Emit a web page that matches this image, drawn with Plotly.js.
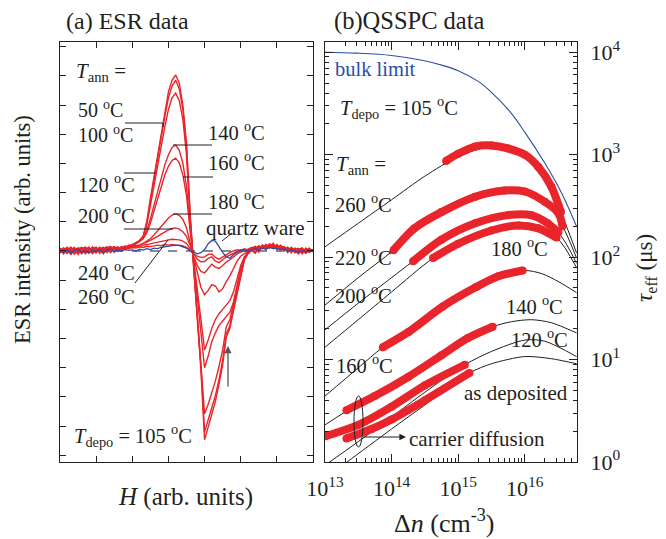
<!DOCTYPE html>
<html>
<head>
<meta charset="utf-8">
<script src="https://cdn.plot.ly/plotly-3.0.1.min.js"></script>
<style>html,body{margin:0;padding:0;background:#fff}#chart{width:666px;height:539px}</style>
</head>
<body>
<div id="chart"></div>
<script>
// ---------- (a) ESR data ----------
const fieldH = [0,0.1,0.2,0.3,0.4,0.5,0.6,0.7,0.8,0.9,1.0,1.1,1.2,1.3,1.4,1.5,1.6,1.7,1.8,1.9,
  2.0,2.1,2.2,2.3,2.4,2.5,2.6,2.7,2.8,2.9,3.0,3.1,3.2,3.3,3.4,3.5,3.6,3.7,3.8,3.9,
  4.0,4.1,4.2,4.3,4.4,4.5,4.6,4.7,4.8,4.9,5.0,5.1,5.2,5.3,5.4,5.5,5.6,5.7,5.8,5.9,
  6.0,6.1,6.2,6.3,6.4,6.5,6.6,6.7,6.8,6.9,7.0];
const esrLabels = ['50 °C','100 °C','120 °C','140 °C','160 °C','180 °C','200 °C','240 °C','260 °C'];
const esr50 = [0.05,-0.1,0.12,-0.04,0.08,-0.12,0.1,0.02,-0.08,0.14,-0.03,0.09,-0.1,0.06,0.13,-0.05,0.1,0.0,0.15,0.08,
  0.18,0.25,0.35,0.5,1.0,1.8,2.55,3.35,4.1,4.8,5.45,5.85,6.03,5.75,5.0,3.7,1.3,-0.6,-2.4,-4.1,
  -6.47,-6.0,-5.6,-5.15,-4.55,-3.9,-2.95,-2.65,-2.05,-1.45,-0.8,-0.3,-0.1,
  0.02,-0.08,0.1,0.18,0.05,0.22,0.12,0.2,0.05,0.15,-0.05,0.1,0.02,-0.1,0.08,-0.04,0.06,0.0];
const esr100 = [-0.06,0.1,-0.02,0.13,-0.1,0.04,-0.05,0.12,0.06,-0.09,0.1,-0.02,0.08,0.15,-0.04,0.09,0.02,0.12,0.05,0.16,
  0.15,0.24,0.33,0.48,0.95,1.7,2.45,3.2,3.95,4.6,5.25,5.65,5.85,5.55,4.85,3.55,1.2,-0.6,-2.3,-3.95,
  -6.2,-5.8,-5.4,-4.95,-4.4,-3.75,-2.85,-2.55,-1.95,-1.4,-0.75,-0.3,-0.08,
  0.06,0.12,-0.04,0.2,0.1,0.15,0.25,0.08,0.18,0.02,0.12,-0.06,0.1,0.04,-0.08,0.1,-0.02,0.05];
const esr120 = [0.1,-0.04,0.07,-0.12,0.05,0.11,-0.07,0.03,0.14,-0.02,0.06,0.12,-0.06,0.1,0.04,0.14,-0.02,0.1,0.18,0.1,
  0.2,0.27,0.36,0.5,0.9,1.55,2.25,2.95,3.65,4.25,4.85,5.25,5.41,5.15,4.5,3.3,1.1,-0.55,-2.1,-3.6,
  -5.58,-5.25,-4.85,-4.45,-3.95,-3.4,-2.6,-2.35,-1.8,-1.25,-0.7,-0.25,-0.05,
  0.1,-0.05,0.15,0.08,0.22,0.1,0.18,0.05,0.2,0.1,-0.02,0.12,0.0,0.08,-0.1,0.04,0.1,-0.03];
const esr140 = [-0.08,0.06,0.12,-0.05,0.1,-0.1,0.08,0.13,-0.03,0.07,0.11,-0.08,0.05,0.1,0.16,0.02,0.12,0.08,0.14,0.18,
  0.22,0.28,0.35,0.45,0.7,1.1,1.55,2.0,2.5,2.95,3.3,3.55,3.63,3.45,3.0,2.2,0.8,-0.4,-1.6,-2.7,
  -4.0,-3.6,-3.1,-2.8,-2.55,-2.4,-2.25,-2.1,-1.75,-1.2,-0.6,-0.25,-0.05,
  0.05,0.14,0.02,0.18,0.1,0.24,0.12,0.2,0.06,0.14,0.0,0.1,-0.06,0.08,0.02,-0.08,0.06,0.0];
const esr160 = [0.08,-0.06,0.04,0.12,-0.09,0.06,0.1,-0.04,0.09,0.02,-0.07,0.12,0.06,-0.02,0.1,0.15,0.06,0.13,0.1,0.2,
  0.2,0.26,0.32,0.42,0.62,0.95,1.35,1.75,2.2,2.6,2.9,3.1,3.18,3.02,2.6,1.9,0.7,-0.35,-1.35,-2.3,
  -3.39,-3.05,-2.65,-2.35,-2.15,-2.0,-1.85,-1.7,-1.4,-0.95,-0.5,-0.2,-0.05,
  0.1,0.04,0.16,0.08,0.2,0.14,0.26,0.1,0.16,0.05,0.12,-0.04,0.08,0.0,0.1,-0.06,0.04,0.02];
const esr180 = [0.04,0.1,-0.08,0.06,0.12,-0.05,0.08,-0.1,0.05,0.11,0.0,0.07,-0.06,0.12,0.05,0.1,0.14,0.04,0.12,0.16,
  0.14,0.18,0.2,0.26,0.33,0.42,0.55,0.7,0.86,1.0,1.13,1.23,1.27,1.22,1.08,0.8,0.3,-0.3,-0.8,-1.25,
  -1.5,-1.35,-1.15,-1.2,-1.4,-1.3,-1.05,-0.85,-0.6,-0.35,-0.18,-0.08,0.0,
  0.08,0.14,0.04,0.2,0.12,0.18,0.08,0.22,0.1,0.14,0.02,0.1,-0.05,0.06,0.1,-0.04,0.05,0.02];
const esr200 = [0.06,-0.07,0.1,0.02,-0.1,0.08,0.12,-0.03,0.06,-0.08,0.1,0.05,0.13,-0.04,0.08,0.12,0.05,0.15,0.08,0.12,
  0.15,0.16,0.2,0.24,0.3,0.36,0.42,0.5,0.58,0.66,0.72,0.77,0.79,0.75,0.66,0.5,0.2,-0.2,-0.5,-0.7,
  -0.75,-0.6,-0.45,-0.55,-0.6,-0.5,-0.38,-0.3,-0.2,-0.1,-0.04,0.02,0.0,
  0.1,0.05,0.16,0.1,0.2,0.12,0.18,0.06,0.15,0.1,0.02,0.12,-0.02,0.08,0.03,-0.06,0.06,0.0];
const esr240 = [-0.04,0.08,0.02,0.11,-0.06,0.05,-0.1,0.09,0.03,0.12,-0.02,0.08,0.1,-0.05,0.13,0.06,0.1,0.02,0.14,0.1,
  0.12,0.15,0.14,0.2,0.22,0.25,0.28,0.3,0.34,0.36,0.38,0.4,0.4,0.38,0.34,0.26,0.08,-0.12,-0.28,-0.37,
  -0.36,-0.25,-0.2,-0.35,-0.4,-0.3,-0.2,-0.14,-0.08,-0.02,0.04,0.0,0.06,
  0.12,0.06,0.18,0.1,0.22,0.14,0.2,0.08,0.16,0.04,0.12,0.02,0.08,-0.04,0.06,0.02,-0.05,0.04];
const esr260 = [0.08,0.0,-0.08,0.1,0.04,-0.06,0.12,0.02,-0.04,0.08,0.13,-0.02,0.06,0.09,-0.06,0.1,0.04,0.12,0.08,0.1,
  0.12,0.1,0.14,0.12,0.16,0.15,0.18,0.2,0.18,0.22,0.2,0.22,0.2,0.2,0.17,0.12,0.02,-0.1,-0.18,-0.22,
  -0.2,-0.12,-0.1,-0.22,-0.28,-0.2,-0.12,-0.06,0.0,0.04,0.02,0.08,0.04,
  0.1,0.16,0.08,0.2,0.12,0.24,0.1,0.18,0.06,0.14,0.04,0.1,0.0,0.08,-0.04,0.05,0.02,0.0];
const esrQuartz = [0.0,-0.05,0.04,-0.08,0.02,0.06,-0.04,0.0,-0.07,0.03,-0.02,0.05,-0.05,0.02,0.06,-0.03,0.04,0.0,0.05,0.02,
  0.04,0.0,0.06,0.03,0.08,0.05,0.1,0.08,0.12,0.14,0.16,0.18,0.2,0.18,0.15,0.1,0.02,-0.05,-0.1,-0.06,
  0.05,0.25,0.36,0.34,0.12,-0.05,-0.2,-0.25,-0.12,-0.04,0.0,0.04,-0.02,
  0.04,0.08,0.02,0.1,0.06,0.12,0.08,0.1,0.04,0.08,-0.02,0.04,0.0,-0.05,0.02,-0.03,0.0,-0.02];

// ---------- (b) QSSPC data (Δn in cm^-3, τ_eff in µs) ----------
const bulkN   = [1e13, 3e13, 1e14, 3e14, 6e14, 1e15, 2e15, 3e15, 6e15, 1e16, 2e16, 3e16, 4e16, 6e16];
const bulkTau = [10000, 9800, 9300, 8300, 7400, 6600, 5200, 4200, 2630, 1660, 830, 525, 363, 200];

const n260 = [6.6e14, 1e15, 1.8e15, 3.2e15, 5.6e15, 1e16, 1.6e16, 2.5e16, 3.5e16];
const t260 = [870, 1020, 1200, 1230, 1150, 1000, 760, 490, 275];
const n220 = [1.07e14, 2.2e14, 5.6e14, 1.8e15, 5e15, 1e16, 2e16, 3.2e16, 3.7e16];
const t220 = [117, 191, 275, 389, 447, 437, 347, 269, 200];
const n200 = [2.1e14, 5.6e14, 1.8e15, 5.6e15, 1.26e16, 2.2e16, 3.2e16];
const t200 = [91, 148, 214, 257, 257, 214, 174];
const n180 = [4.2e14, 1e15, 3.16e15, 8e15, 1.6e16, 3e16];
const t180 = [98, 135, 182, 204, 191, 155];
const n160 = [7.4e13, 1.8e14, 5.9e14, 1.86e15, 4e15, 9.3e15];
const t160 = [13.2, 18.6, 33, 51, 65, 74];
const n140 = [2.1e13, 5.6e13, 1.8e14, 5.6e14, 1.4e15, 3.3e15];
const t140 = [3.2, 4.4, 6.8, 11, 16.2, 20.9];
const n120 = [1e13, 3.16e13, 1e14, 3.16e14, 1.26e15];
const t120 = [1.78, 2.3, 3.47, 5.6, 8.9];
const nAsDep = [2.1e13, 5e13, 1e14, 3.16e14, 1.48e15];
const tAsDep = [1.7, 2.1, 2.6, 4.0, 7.4];

// model (fit) curves, thin black
const m260n = [1e13, 3.16e13, 1e14, 3.16e14, 1e15, 3.16e15, 1e16, 2e16, 3.5e16, 6e16];
const m260t = [126, 214, 363, 617, 955, 1200, 1000, 630, 275, 110];
const m220n = [1e13, 3.16e13, 1.07e14, 3.16e14, 1e15, 3.16e15, 1e16, 2e16, 3.7e16, 6e16];
const m220t = [34, 63, 117, 224, 331, 427, 445, 347, 200, 98];
const m200n = [1e13, 3.16e13, 1e14, 2.1e14, 1e15, 3.16e15, 1e16, 3.16e16, 6e16];
const m200t = [19.5, 35.5, 63, 91, 186, 240, 263, 174, 87];
const m180n = [1e13, 3.16e13, 1e14, 4.2e14, 1e15, 3.16e15, 1e16, 3e16, 6e16];
const m180t = [13.2, 24.5, 45.7, 98, 135, 182, 204, 155, 79];
const m160n = [1e13, 3.16e13, 7.4e13, 3.16e14, 1e15, 3.16e15, 1e16, 1.8e16, 3.16e16, 6e16];
const m160t = [4.4, 8.3, 13.2, 25, 42, 62, 74, 69, 58, 45];
const m140n = [1e13, 3.16e13, 1e14, 3.16e14, 1e15, 3.3e15, 6.3e15, 1.26e16, 2.5e16, 6e16];
const m140t = [2.3, 3.7, 5.5, 8.7, 14.1, 20.9, 23.4, 24.5, 22.9, 18.2];
const m120n = [1e13, 3.16e13, 1e14, 3.16e14, 1.26e15, 3.16e15, 1e16, 2e16, 6e16];
const m120t = [0.93, 1.58, 2.75, 4.8, 8.9, 12, 15.5, 15.1, 10.7];
const mAsDepN = [1e13, 2.14e13, 1e14, 3.16e14, 1.48e15, 3.16e15, 1e16, 2.5e16, 6e16];
const mAsDepT = [0.7, 1.0, 2.1, 3.6, 7.4, 9.1, 10.7, 10.2, 9.1];

const xTickVals = [1e13, 1e14, 1e15, 1e16];
const xTickText = ['10<sup>13</sup>', '10<sup>14</sup>', '10<sup>15</sup>', '10<sup>16</sup>'];
const yTickVals = [1, 10, 100, 1000, 10000];
const yTickText = ['10<sup>0</sup>', '10<sup>1</sup>', '10<sup>2</sup>', '10<sup>3</sup>', '10<sup>4</sup>'];

// ---------- drawing ----------
const W = 666, H = 539;
const F = 'Liberation Serif';
const K = '#231f20';
const RED = '#e9252b';
const BLUE = '#2b4da6';

function minorVals(lo, hi) {
  const v = [];
  for (let e = lo; e <= hi; e++) for (let d = 2; d <= 9; d++) v.push(d * Math.pow(10, e));
  return v;
}

const traces = [];
const esrSeries = [esr50, esr100, esr120, esr140, esr160, esr180, esr200, esr240, esr260];
esrSeries.forEach((s, i) => traces.push({
  x: fieldH, y: s, xaxis: 'x', yaxis: 'y', type: 'scatter', mode: 'lines', name: esrLabels[i],
  line: {color: RED, width: 1.4}
}));
traces.push({x: fieldH, y: esrQuartz, xaxis: 'x', yaxis: 'y', type: 'scatter', mode: 'lines', name: 'quartz ware',
  line: {color: BLUE, width: 1.3}});

const models = [[m260n, m260t], [m220n, m220t], [m200n, m200t], [m180n, m180t], [m160n, m160t],
                [m140n, m140t], [m120n, m120t], [mAsDepN, mAsDepT]];
models.forEach(m => traces.push({x: m[0], y: m[1], xaxis: 'x2', yaxis: 'y2', type: 'scatter', mode: 'lines',
  line: {color: K, width: 1, shape: 'spline', smoothing: 0.8}}));
traces.push({x: bulkN, y: bulkTau, xaxis: 'x2', yaxis: 'y2', type: 'scatter', mode: 'lines', name: 'bulk limit',
  line: {color: BLUE, width: 1.1, shape: 'spline', smoothing: 1}});
const data = [[n260, t260], [n220, t220], [n200, t200], [n180, t180], [n160, t160], [n140, t140], [n120, t120], [nAsDep, tAsDep]];
data.forEach(d => traces.push({x: d[0], y: d[1], xaxis: 'x2', yaxis: 'y2', type: 'scatter', mode: 'lines+markers',
  line: {color: RED, width: 8, shape: 'spline', smoothing: 0.8}, marker: {color: RED, size: 8}}));

const yDom = [1 - 462 / H, 1 - 42 / H];
const frame = {showline: true, linecolor: K, linewidth: 1, mirror: 'ticks', ticks: 'inside', tickcolor: K,
  showgrid: false, zeroline: false};

function T(text, x, y, size, extra) {
  return Object.assign({text: text, xref: 'paper', yref: 'paper', x: x / W, y: 1 - y / H, xanchor: 'left', yanchor: 'middle',
    showarrow: false, font: {family: F, size: size || 20, color: K}}, extra || {});
}
function L(x0, y0, x1, y1) {
  return {type: 'line', xref: 'paper', yref: 'paper', x0: x0 / W, y0: 1 - y0 / H, x1: x1 / W, y1: 1 - y1 / H,
    line: {color: K, width: 1}};
}
const deg = ' <sup>o</sup>C';

const annotations = [
  T('(a) ESR data', 64, 21, 24),
  T('(b)QSSPC data', 332, 21, 24.5),
  T('ESR intensity (arb. units)', 22, 230, 22.5, {xanchor: 'center', textangle: -90}),
  T('<i>H</i> (arb. units)', 185, 497, 25, {xanchor: 'center'}),
  T('Δ<i>n</i> (cm<sup>-3</sup>)', 444, 521, 26, {xanchor: 'center'}),
  T('<i>τ</i><sub>eff</sub> (μs)', 646, 268, 23, {xanchor: 'center', textangle: -90}),
  // panel (a) labels
  T('<i>T</i><sub>ann</sub> =', 74, 72, 21),
  T('50' + deg, 76, 109, 20),
  T('100' + deg, 76, 134, 20),
  T('120' + deg, 76, 183, 20.5),
  T('200' + deg, 76, 214, 20.5),
  T('140' + deg, 206, 131, 20.5),
  T('160' + deg, 206, 161, 20.5),
  T('180' + deg, 206, 200, 20.5),
  T('quartz ware', 204, 228, 21),
  T('240' + deg, 76, 271, 20.5),
  T('260' + deg, 76, 295, 20.5),
  T('<i>T</i><sub>depo</sub> = 105' + deg, 72, 435, 20.5),
  // panel (b) labels
  T('bulk limit', 333, 69, 20.5, {font: {family: F, size: 20.5, color: BLUE}}),
  T('<i>T</i><sub>depo</sub> = 105' + deg, 338, 108, 20.5),
  T('<i>T</i><sub>ann</sub> =', 334, 165, 21),
  T('260' + deg, 333, 203, 20.5),
  T('220' + deg, 333, 256, 20.5),
  T('200' + deg, 333, 294, 20.5),
  T('180' + deg, 489, 247, 20.5),
  T('140' + deg, 504, 305, 20.5),
  T('120' + deg, 509, 338, 20.5),
  T('160' + deg, 334, 364, 20.5),
  T('as deposited', 462, 393, 21),
  T('carrier diffusion', 407, 439, 21),
  // arrows
  {text: '', xref: 'paper', yref: 'paper', x: 228 / W, y: 1 - 346 / H, ax: 0, ay: 42, showarrow: true,
   arrowhead: 2, arrowsize: 1.1, arrowwidth: 1.3, arrowcolor: '#555'},
  {text: '', xref: 'paper', yref: 'paper', x: 406 / W, y: 1 - 437 / H, ax: -44, ay: 0, showarrow: true,
   arrowhead: 2, arrowsize: 1.1, arrowwidth: 1.2, arrowcolor: K}
];

const shapes = [
  {type: 'line', xref: 'x domain', yref: 'y', x0: 0, x1: 1, y0: 0, y1: 0, line: {color: '#666', width: 1.3, dash: 'dash'}, layer: 'below'},
  L(125, 123, 163, 123), L(163, 123, 163, 127),
  L(124, 173, 156, 173),
  L(173, 145, 212, 145),
  L(183, 177, 213, 177),
  L(173, 214, 212, 214),
  L(124, 229, 173, 229),
  L(222, 241, 232, 233),
  L(135, 283, 168, 240),
  {type: 'circle', xref: 'paper', yref: 'paper', x0: 354 / W, x1: 363 / W, y0: 1 - 447 / H, y1: 1 - 396 / H,
   line: {color: K, width: 1}}
];

const layout = {
  width: W, height: H, margin: {l: 0, r: 0, t: 0, b: 0}, paper_bgcolor: '#fff', plot_bgcolor: '#fff',
  showlegend: false, font: {family: F, color: K, size: 20},
  xaxis: Object.assign({}, frame, {domain: [60 / W, 313 / W], range: [0, 7], dtick: 1, tick0: 0, ticklen: 6,
    showticklabels: false, anchor: 'y'}),
  yaxis: Object.assign({}, frame, {domain: yDom, range: [-7.23, 7.16], dtick: 1, tick0: 0, ticklen: 6,
    showticklabels: false, anchor: 'x'}),
  xaxis2: Object.assign({}, frame, {type: 'log', domain: [325 / W, 577 / W], range: [13, 16.785], anchor: 'y2',
    tickmode: 'array', tickvals: xTickVals, ticktext: xTickText, ticklen: 8, ticklabelstandoff: 7,
    tickfont: {family: F, size: 22, color: K},
    minor: {tickmode: 'array', tickvals: minorVals(13, 16), ticks: 'inside', ticklen: 4, tickcolor: K, showgrid: false}}),
  yaxis2: Object.assign({}, frame, {type: 'log', domain: yDom, range: [0, 4.1], anchor: 'x2', side: 'right',
    tickmode: 'array', tickvals: yTickVals, ticktext: yTickText, ticklen: 8, ticklabelstandoff: 8,
    tickfont: {family: F, size: 22, color: K},
    minor: {tickmode: 'array', tickvals: minorVals(0, 3), ticks: 'inside', ticklen: 4, tickcolor: K, showgrid: false}}),
  annotations: annotations,
  shapes: shapes
};

Plotly.newPlot('chart', traces, layout, {staticPlot: true, displayModeBar: false});
</script>
</body>
</html>
